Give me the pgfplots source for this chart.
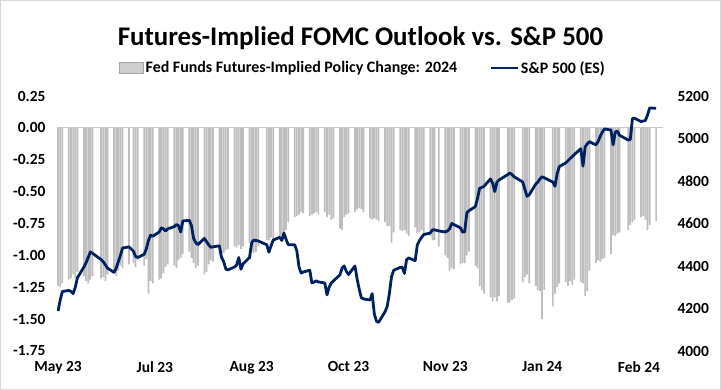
\documentclass[border=0pt]{standalone}
\usepackage{pgfplots}
\usepackage{pgfplotstable}
\usepackage{fontspec}
\setmainfont{Carlito}
\pgfplotsset{compat=1.18}
\definecolor{barcol}{RGB}{190,190,190}
\definecolor{baredge}{RGB}{166,166,166}
\definecolor{navy}{RGB}{0,32,96}
\definecolor{zeroline}{RGB}{200,200,200}
\definecolor{frame}{RGB}{217,217,217}

\pgfplotstableread{
day bar sp
0 -1.24 4188
1 -1.25 4240
2 -1.22 4280
5 -1.19 4285
6 -1.18 4280
7 -1.15 4270
8 -1.18 4300
9 -1.13 4345
12 -1.16 4395
13 -1.20 4415
14 -1.22 4440
15 -1.19 4466
16 -1.16 4460
20 -1.18 4430
21 -1.17 4420
22 -1.20 4405
23 -1.15 4390
26 -1.13 4370
27 -1.16 4390
28 -1.12 4420
29 -1.08 4450
30 -1.10 4485
33 -1.07 4490
35 -1.06 4470
36 -1.09 4445
37 -1.04 4440
40 -1.08 4455
41 -1.03 4480
42 -1.30 4520
43 -1.20 4545
44 -1.22 4540
47 -1.19 4560
48 -1.18 4580
49 -1.14 4575
50 -1.09 4565
51 -1.07 4575
54 -1.08 4585
55 -1.10 4595
56 -1.04 4590
57 -1.02 4560
58 -0.99 4612
61 -0.97 4615
62 -1.02 4590
63 -1.06 4530
64 -1.10 4510
65 -1.08 4500
68 -1.15 4530
69 -1.13 4515
70 -1.07 4500
71 -1.04 4488
72 -1.05 4490
75 -1.00 4495
76 -0.98 4440
77 -0.98 4420
78 -0.96 4385
79 -0.95 4382
82 -0.93 4395
83 -0.94 4405
84 -0.92 4440
85 -0.95 4385
86 -0.93 4410
89 -0.90 4440
90 -0.96 4510
91 -0.98 4522
92 -0.97 4520
93 -0.93 4518
97 -0.88 4500
98 -0.88 4465
99 -0.86 4495
100 -0.87 4522
103 -0.85 4535
104 -0.86 4520
105 -0.85 4555
106 -0.80 4525
107 -0.74 4500
110 -0.70 4500
111 -0.69 4470
112 -0.68 4395
113 -0.66 4367
114 -0.67 4372
117 -0.69 4380
118 -0.68 4320
119 -0.67 4325
120 -0.66 4330
121 -0.68 4325
124 -0.66 4320
125 -0.70 4264
126 -0.68 4300
127 -0.72 4320
128 -0.71 4330
131 -0.79 4358
132 -0.80 4390
133 -0.70 4400
134 -0.68 4375
135 -0.67 4360
138 -0.66 4400
139 -0.64 4340
140 -0.63 4290
141 -0.64 4250
142 -0.66 4245
145 -0.71 4240
146 -0.72 4270
147 -0.71 4175
148 -0.72 4140
149 -0.73 4135
152 -0.74 4185
153 -0.77 4210
154 -0.77 4270
155 -0.90 4350
156 -0.82 4380
159 -0.80 4393
160 -0.81 4395
161 -0.80 4365
162 -0.83 4430
163 -0.85 4438
166 -0.78 4425
167 -0.82 4500
168 -0.82 4520
169 -0.80 4535
170 -0.83 4548
173 -0.85 4555
174 -0.88 4570
175 -0.88 4570
177 -0.93 4565
180 -1.00 4560
181 -1.02 4565
182 -1.12 4575
183 -1.10 4600
184 -1.11 4595
187 -1.07 4580
188 -1.06 4560
189 -1.06 4560
190 -1.00 4650
191 -0.97 4660
194 -1.08 4680
195 -1.10 4720
196 -1.24 4767
197 -1.27 4770
198 -1.30 4775
201 -1.33 4810
202 -1.36 4790
203 -1.33 4750
204 -1.36 4795
205 -1.32 4805
209 -1.37 4830
210 -1.37 4838
211 -1.35 4830
212 -1.34 4820
216 -1.21 4795
217 -1.17 4760
218 -1.15 4728
219 -1.22 4735
222 -1.24 4785
223 -1.27 4795
224 -1.28 4810
225 -1.50 4820
226 -1.27 4815
230 -1.40 4795
231 -1.30 4775
232 -1.25 4835
233 -1.22 4868
236 -1.21 4885
237 -1.24 4895
238 -1.20 4905
239 -1.23 4915
240 -1.19 4925
243 -1.21 4952
244 -1.22 4870
245 -1.32 4960
246 -1.28 4975
247 -1.12 4985
250 -1.06 4970
251 -1.04 4985
252 -1.05 5010
253 -1.03 5030
254 -1.02 5045
257 -0.99 5040
258 -0.84 4970
259 -0.85 5030
260 -0.83 5035
261 -0.82 5015
265 -0.80 4993
266 -0.76 4995
267 -0.74 5095
268 -0.72 5095
271 -0.70 5080
272 -0.69 5082
273 -0.72 5085
274 -0.80 5110
275 -0.76 5144
278 -0.73 5142
}\datatable

\begin{document}
\begin{tikzpicture}
\useasboundingbox (0,0) rectangle (721bp,390bp);
\fill[white] (0,0) rectangle (721bp,390bp);
\draw[frame, line width=1bp] (0.5bp,0.5bp) rectangle (720.5bp,389.5bp);
\node[font=\bfseries\fontsize{27}{32}\selectfont] at (360.5bp,352bp) {Futures-Implied FOMC Outlook vs. S\&P 500};

\begin{axis}[
  at={(57bp,39bp)}, anchor=south west,
  scale only axis, width=606bp, height=255bp,
  xmin=-0.5, xmax=281.2,
  ymin=-1.75, ymax=0.25,
  axis line style={draw=none},
  major tick length=0pt,
  xtick={0,45,90,135,180,225,270},
  xticklabels={May 23,Jul 23,Aug 23,Oct 23,Nov 23,Jan 24,Feb 24},
  ytick={-1.75,-1.5,-1.25,-1,-0.75,-0.5,-0.25,0,0.25},
  yticklabels={-1.75,-1.50,-1.25,-1.00,-0.75,-0.50,-0.25,0.00,0.25},
  ticklabel style={font=\bfseries\fontsize{15.5}{17}\selectfont},
  xticklabel style={yshift=-7bp},
  yticklabel style={xshift=-8bp},
  legend style={at={(0.505,1.11)}, anchor=center, draw=none, fill=none,
    legend columns=2, font=\bfseries\fontsize{16}{18}\selectfont,
    /tikz/every even column/.append style={column sep=30bp}},
  legend cell align=left,
]
\addplot[ybar, bar width=0.8, fill=barcol, draw=none,
  legend image code/.code={\draw[fill=barcol!75!white, draw=baredge] (0bp,-5.5bp) rectangle (24bp,5.5bp);}]
  table[x=day, y=bar] {\datatable};
\addlegendentry{Fed Funds Futures-Implied Policy Change: 2024}
\addlegendimage{legend image code/.code={\draw[navy, line width=2.8pt] (0bp,0bp) -- (27bp,0bp);}}
\addlegendentry{S\&P 500 (ES)}
\addplot[zeroline, line width=0.8bp, forget plot] coordinates {(-0.5,0) (281.2,0)};
\end{axis}

\begin{axis}[
  at={(57bp,39bp)}, anchor=south west,
  scale only axis, width=606bp, height=255bp,
  xmin=-0.5, xmax=281.2,
  ymin=4000, ymax=5200,
  axis y line*=right,
  axis x line=none,
  axis line style={draw=none},
  major tick length=0pt,
  ytick={4000,4200,4400,4600,4800,5000,5200},
  yticklabels={4000,4200,4400,4600,4800,5000,5200},
  ticklabel style={font=\bfseries\fontsize{15.5}{17}\selectfont},
  yticklabel style={xshift=11bp},
]
\addplot[navy, line width=2.8pt, line join=round] table[x=day, y=sp] {\datatable};
\end{axis}
\end{tikzpicture}
\end{document}
